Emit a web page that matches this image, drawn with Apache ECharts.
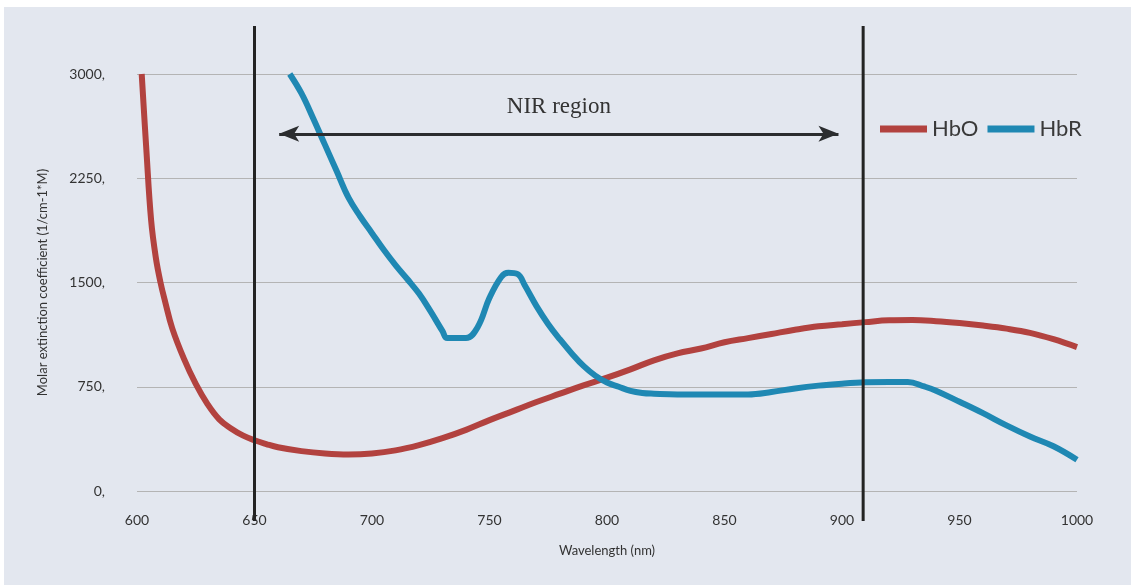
<!DOCTYPE html>
<html>
<head>
<meta charset="utf-8">
<script src="https://cdn.jsdelivr.net/npm/echarts@6/dist/echarts.min.js"></script>
<style>
html,body{margin:0;padding:0;background:#fff;}
#c{width:1131px;height:585px;}
</style>
</head>
<body>
<div id="c"></div>
<script>
var hboWavelength = [602,604,606,608,610,612,615,620,625,630,635,640,645,650,655,660,670,680,690,700,710,720,730,740,750,760,770,780,790,800,810,820,830,840,850,860,870,880,890,900,910,920,930,940,950,960,970,980,990,1000];
var hboValues     = [3000,2450,1950,1680,1500,1360,1170,950,770,625,515,450,400,365,338,315,287,270,263,270,292,330,380,440,510,575,640,700,760,815,875,940,990,1025,1070,1100,1130,1160,1185,1200,1215,1228,1230,1222,1208,1190,1168,1138,1092,1035];
var hbrWavelength = [665,670,675,680,685,690,695,700,705,710,715,720,725,730,732,740,745,750,755,758,762,765,770,775,780,785,790,795,800,805,810,815,820,830,840,850,860,870,880,890,900,910,920,928,935,940,950,960,970,980,990,1000];
var hbrValues     = [3000,2860,2680,2490,2300,2110,1975,1855,1735,1625,1525,1420,1290,1150,1100,1100,1180,1390,1540,1570,1560,1480,1330,1200,1090,990,900,830,780,750,720,705,700,695,695,695,695,712,738,758,772,782,785,785,752,722,642,560,472,392,322,225];
var xTicks = {min:600, max:1000, interval:50};
var yTicks = {min:0, max:3000, interval:750};
var nirRange = [660.5, 898.5];
var nirLevel = 2570;
var regionLines = [650, 909];

function zip(a,b){return a.map(function(v,i){return [v,b[i]];});}

var chart = echarts.init(document.getElementById('c'));
var font = 'Lato, "Open Sans", sans-serif';
chart.setOption({
  backgroundColor:'#ffffff',
  animation:false,
  grid:{left:137,right:54,top:74,bottom:94},
  legend:{
    left:875, top:113, icon:'rect', itemWidth:47, itemHeight:7, itemGap:9,
    textStyle:{fontSize:22,color:'#3a3a3a',fontFamily:font},
    data:['HbO','HbR']
  },
  xAxis:{
    type:'value', min:xTicks.min, max:xTicks.max, interval:xTicks.interval,
    name:'Wavelength (nm)', nameLocation:'middle', nameGap:53,
    nameTextStyle:{fontSize:13,color:'#333',fontFamily:font},
    axisLine:{show:false}, axisTick:{show:false}, splitLine:{show:false},
    axisLabel:{fontSize:14,color:'#333',margin:22,fontFamily:font,formatter:function(v){return String(v);}}
  },
  yAxis:{
    type:'value', min:yTicks.min, max:yTicks.max, interval:yTicks.interval,
    name:'Molar extinction coefficient (1/cm-1*M)', nameLocation:'middle', nameGap:88,
    nameTextStyle:{fontSize:13,color:'#333',fontFamily:font},
    axisLine:{show:false}, axisTick:{show:false},
    splitLine:{lineStyle:{color:'#b4b4b4',width:1}},
    axisLabel:{fontSize:14,color:'#333',margin:32,fontFamily:font,formatter:function(v){return v+',';}}
  },
  series:[
    {name:'HbO',type:'line',data:zip(hboWavelength,hboValues),showSymbol:false,smooth:0.4,
     color:'#b2423f',lineStyle:{width:6,color:'#b2423f'},
     markLine:{silent:true,symbol:['arrow','arrow'],symbolSize:[12,20],
       lineStyle:{color:'#2b2d2f',width:3,type:'solid'},label:{show:false},
       data:[[{coord:[nirRange[0],nirLevel]},{coord:[nirRange[1],nirLevel]}]]}},
    {name:'HbR',type:'line',data:zip(hbrWavelength,hbrValues),showSymbol:false,smooth:0.4,
     color:'#1f88b3',lineStyle:{width:6,color:'#1f88b3'}}
  ]
});
var g=[{type:'rect',z:-10,shape:{x:4,y:7,width:1127,height:578},style:{fill:'#e3e7ef'}}];
regionLines.forEach(function(w){
  var px=chart.convertToPixel({xAxisIndex:0},w);
  g.push({type:'line',z:50,shape:{x1:px,y1:26,x2:px,y2:521},style:{stroke:'#232323',lineWidth:3}});
});
var cx=chart.convertToPixel({xAxisIndex:0},(nirRange[0]+nirRange[1])/2);
var cy=chart.convertToPixel({yAxisIndex:0},nirLevel);
g.push({type:'text',z:50,x:cx,y:cy-27,style:{text:'NIR region',fontSize:23,fill:'#333',fontFamily:'"Liberation Serif", serif',align:'center',verticalAlign:'middle'}});
chart.setOption({graphic:g});
</script>
</body>
</html>
